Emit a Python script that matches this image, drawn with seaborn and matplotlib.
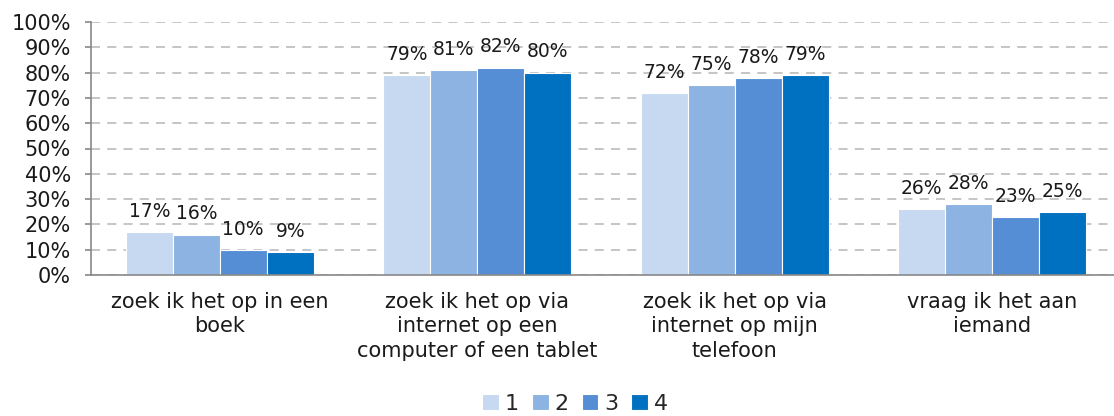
import numpy as np
import matplotlib
matplotlib.use("Agg")
import matplotlib.pyplot as plt
import seaborn as sns
import pandas as pd

sns.set_theme(style="white")
plt.rcParams['font.family'] = ['DejaVu Sans']

categories = ["zoek ik het op in een\nboek",
              "zoek ik het op via\ninternet op een\ncomputer of een tablet",
              "zoek ik het op via\ninternet op mijn\ntelefoon",
              "vraag ik het aan\niemand"]
groups = ["1", "2", "3", "4"]
values = {
    "1": [17, 79, 72, 26],
    "2": [16, 81, 75, 28],
    "3": [10, 82, 78, 23],
    "4": [9, 80, 79, 25],
}
colors = ["#C6D9F1", "#8DB3E2", "#558ED5", "#0070C0"]

rows = []
for g in groups:
    for c, v in zip(categories, values[g]):
        rows.append({"cat": c, "grp": g, "val": v})
df = pd.DataFrame(rows)

fig = plt.figure(figsize=(11.14, 4.16), dpi=100)
ax = fig.add_axes([91/1114, 1-275/416, (1121-91)/1114, 253/416])

sns.barplot(df, x="cat", y="val", hue="grp", order=categories, hue_order=groups,
            palette=colors, saturation=1, width=0.73, gap=0, edgecolor="white",
            linewidth=0.8, ax=ax, legend=True, zorder=2)

for cont in ax.containers:
    ax.bar_label(cont, fmt="%d%%", padding=8, fontsize=13.5, color="#1a1a1a")

ax.set_ylim(0, 100)
ax.set_xlim(-0.5, 3.5)
ax.set_yticks(np.arange(0, 101, 10))
ax.set_yticklabels([f"{t}%" for t in range(0, 101, 10)], fontsize=15, color="#1a1a1a")
ax.yaxis.grid(True, linestyle=(0, (5, 4)), color="#c0c0c0", linewidth=1.3, zorder=0)
ax.set_axisbelow(True)
ax.set_xlabel("")
ax.set_ylabel("")

ax.tick_params(axis="x", which="major", length=0, pad=12, labelsize=15, labelcolor="#1a1a1a")
ax.set_xticks([0.5, 1.5, 2.5], minor=True)
ax.tick_params(axis="x", which="minor", length=5, width=1.2, color="#888888", direction="out")
ax.tick_params(axis="y", length=4.5, width=1.2, color="#888888", direction="out", left=True, pad=10)
for lbl in ax.get_xticklabels():
    lbl.set_linespacing(1.3)

for s in ["top", "right"]:
    ax.spines[s].set_visible(False)
for s in ["left", "bottom"]:
    ax.spines[s].set_color("#888888")
    ax.spines[s].set_linewidth(1.2)

handles, labels = ax.get_legend_handles_labels()
ax.get_legend().remove()
fig.legend(handles, labels, loc="center", bbox_to_anchor=(575/1114, 1-404/416), ncol=4,
           frameon=False, fontsize=16, handlelength=0.75, handleheight=0.75,
           handletextpad=0.25, columnspacing=0.6, borderaxespad=0)

fig.savefig("out.png", dpi=100)
